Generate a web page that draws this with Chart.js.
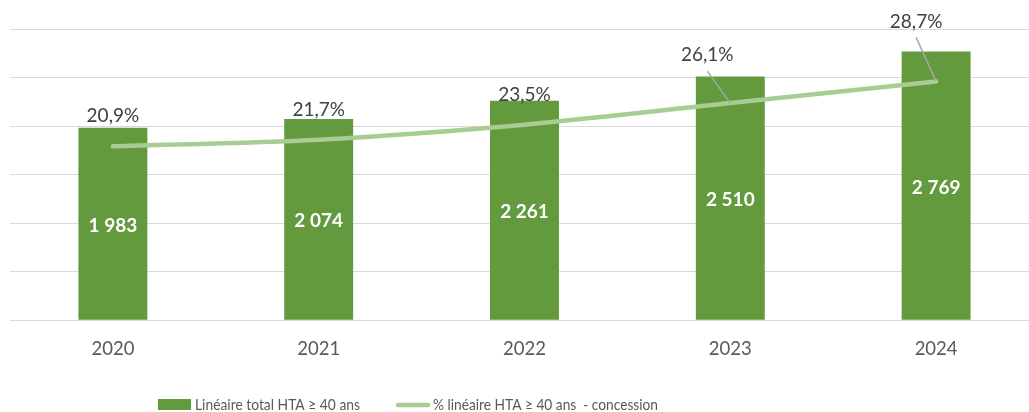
<!DOCTYPE html>
<html>
<head>
<meta charset="utf-8">
<script src="https://cdn.jsdelivr.net/npm/chart.js@4"></script>
<style>
  html, body { margin: 0; padding: 0; overflow: hidden; background: #fff; }
  canvas { display: block; }
</style>
</head>
<body>
<canvas id="chart" width="1040" height="412"></canvas>
<script>
// Données
const years = ['2020', '2021', '2022', '2023', '2024'];
const lineaireTotal = [1983, 2074, 2261, 2510, 2769];
const partConcession = [20.9, 21.7, 23.5, 26.1, 28.7];
const legendLabels = ['Linéaire total HTA ≥ 40 ans', '% linéaire HTA ≥ 40 ans  - concession'];

const BAR_COLOR = '#639A3E';
const LINE_COLOR = '#A8CD92';
const FONT = 'Lato, "Noto Sans", sans-serif';

// Décalage des étiquettes % par rapport au point (dx, dy) ; dx != 0 => trait de rappel
const pctLabelOffsets = [[0, -30], [0, -30], [0, -30], [-23, -48], [-20, -60]];

function fmtNum(v) { return String(v).replace(/\B(?=(\d{3})+(?!\d))/g, ' '); }
function fmtPct(v) { return v.toFixed(1).replace('.', ',') + '%'; }

/** Étiquettes de valeurs (barres + courbe) */
const labelsPlugin = {
    id: 'valueLabels',
    afterDatasetsDraw(chart) {
        const ctx = chart.ctx;
        const bars = chart.getDatasetMeta(0).data;
        const pts = chart.getDatasetMeta(1).data;
        ctx.save();
        ctx.textAlign = 'center';
        ctx.textBaseline = 'middle';

        ctx.font = `bold 19px ${FONT}`;
        ctx.fillStyle = '#ffffff';
        bars.forEach((b, i) => {
            ctx.fillText(fmtNum(lineaireTotal[i]), b.x, (b.y + b.base) / 2 + 2);
        });

        ctx.font = `19px ${FONT}`;
        pts.forEach((p, i) => {
            const [dx, dy] = pctLabelOffsets[i];
            const lx = p.x + dx, ly = p.y + dy;
            if (dx !== 0) {
                ctx.strokeStyle = '#A6A6A6';
                ctx.lineWidth = 1.5;
                ctx.beginPath();
                ctx.moveTo(lx, ly + 16);
                ctx.lineTo(p.x, p.y);
                ctx.stroke();
            }
            ctx.fillStyle = '#404040';
            ctx.fillText(fmtPct(partConcession[i]), lx, ly);
        });
        ctx.restore();
    }
};

// texte resserré horizontalement (Calibri est plus étroit que Lato)
function fitText(ctx, text, x, y, width) {
    const w = ctx.measureText(text).width;
    ctx.save();
    ctx.translate(x, y);
    ctx.scale(Math.min(1, width / w), 1);
    ctx.fillText(text, 0, 0);
    ctx.restore();
}

/** Légende dessinée à la main (position façon Excel) */
const legendPlugin = {
    id: 'customLegend',
    afterDraw(chart) {
        const ctx = chart.ctx;
        ctx.save();
        ctx.font = `16px ${FONT}`;
        ctx.textBaseline = 'middle';
        ctx.textAlign = 'left';

        ctx.fillStyle = BAR_COLOR;
        ctx.fillRect(158, 399, 33, 11);
        ctx.fillStyle = '#595959';
        fitText(ctx, legendLabels[0], 195, 405, 165);

        ctx.strokeStyle = LINE_COLOR;
        ctx.lineWidth = 4.5;
        ctx.lineCap = 'round';
        ctx.beginPath();
        ctx.moveTo(398, 405);
        ctx.lineTo(428, 405);
        ctx.stroke();
        fitText(ctx, legendLabels[1], 433, 405, 225);
        ctx.restore();
    }
};

new Chart(document.getElementById('chart'), {
    type: 'bar',
    data: {
        labels: years,
        datasets: [
            {
                label: legendLabels[0],
                data: lineaireTotal,
                backgroundColor: BAR_COLOR,
                categoryPercentage: 1,
                barPercentage: 0.335,
                yAxisID: 'y',
                order: 1
            },
            {
                type: 'line',
                label: legendLabels[1],
                data: partConcession,
                borderColor: LINE_COLOR,
                borderWidth: 4.5,
                borderCapStyle: 'round',
                tension: 0.3,
                pointRadius: 0,
                fill: false,
                yAxisID: 'y1',
                order: 0
            }
        ]
    },
    options: {
        responsive: false,
        animation: false,
        layout: { padding: { left: 10, right: 1, top: 29, bottom: 42.5 } },
        plugins: {
            legend: { display: false },
            tooltip: { enabled: false }
        },
        scales: {
            x: {
                grid: { display: false },
                border: { display: false },
                ticks: { color: '#595959', font: { family: FONT, size: 18.5 }, padding: 9.5 }
            },
            y: {
                min: 0, max: 3000,
                ticks: { display: false, stepSize: 500 },
                border: { display: false },
                grid: { color: '#D9D9D9', lineWidth: 1, drawTicks: false }
            },
            y1: {
                display: false,
                min: 0, max: 35
            }
        }
    },
    plugins: [labelsPlugin, legendPlugin]
});
</script>
</body>
</html>
